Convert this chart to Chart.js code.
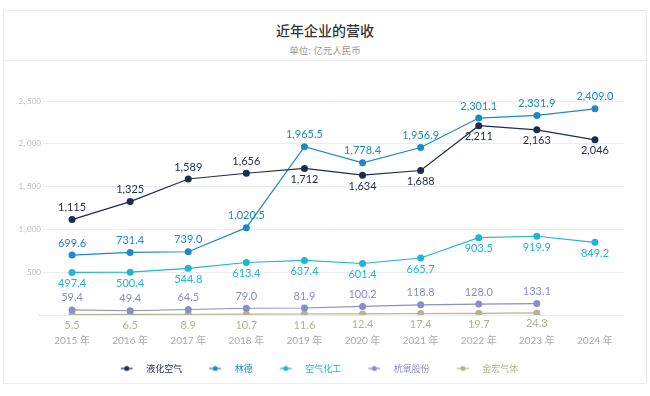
<!DOCTYPE html>
<html>
<head>
<meta charset="utf-8">
<script src="https://cdn.jsdelivr.net/npm/chart.js@4.4.1/dist/chart.umd.min.js"></script>
<style>
  html, body { margin: 0; padding: 0; background: #fff; }
  body { width: 650px; height: 396px; position: relative; overflow: hidden; font-family: Lato, "Noto Sans CJK SC", sans-serif; }
  .card { position: absolute; left: 3px; top: 10px; width: 642px; height: 372px; border: 1px solid #ececec; }
  .head { height: 49px; border-bottom: 1px solid #ececec; text-align: center; }
  .head h1 { margin: 0; padding-top: 10px; font-size: 14px; font-weight: 500; color: #333; line-height: 18px; font-family: "Noto Sans CJK SC", sans-serif; }
  .head p { margin: 5px 0 0; font-size: 9.5px; color: #999; line-height: 12px; font-family: "Noto Sans CJK SC", sans-serif; }
  .box { position: relative; width: 642px; height: 322px; }
</style>
</head>
<body>
<div class="card">
  <div class="head">
    <h1>近年企业的营收</h1>
    <p>单位: 亿元人民币</p>
  </div>
  <div class="box"><canvas id="chart"></canvas></div>
</div>
<script>
const years = ["2015 年", "2016 年", "2017 年", "2018 年", "2019 年", "2020 年", "2021 年", "2022 年", "2023 年", "2024 年"];
const airLiquide = [1115, 1325, 1589, 1656, 1712, 1634, 1688, 2211, 2163, 2046];
const linde = [699.6, 731.4, 739.0, 1020.5, 1965.5, 1778.4, 1956.9, 2301.1, 2331.9, 2409.0];
const airProducts = [497.4, 500.4, 544.8, 613.4, 637.4, 601.4, 665.7, 903.5, 919.9, 849.2];
const hangyang = [59.4, 49.4, 64.5, 79.0, 81.9, 100.2, 118.8, 128.0, 133.1, null];
const jinhong = [5.5, 6.5, 8.9, 10.7, 11.6, 12.4, 17.4, 19.7, 24.3, null];
const yTicks = [0, 500, 1000, 1500, 2000, 2500];

// label placement per series: "up" / "down"
const series = [
  { name: "液化空气", data: airLiquide, color: "#1f2b50", digits: 0, pos: i => i < 4 ? "up" : "down" },
  { name: "林德", data: linde, color: "#1d89c8", digits: 1, pos: () => "up" },
  { name: "空气化工", data: airProducts, color: "#22b4d4", digits: 1, pos: () => "down" },
  { name: "杭氧股份", data: hangyang, color: "#8a8ec6", digits: 1, pos: () => "up" },
  { name: "金宏气体", data: jinhong, color: "#b3b394", digits: 1, pos: () => "down" },
];

function fmt(v, d) {
  return v.toLocaleString("en-US", { minimumFractionDigits: d, maximumFractionDigits: d });
}

// small line + dot marker used as legend point style (left blank = gap to previous item)
function legendMark(color) {
  const c = document.createElement("canvas");
  c.width = 32; c.height = 8;
  const g = c.getContext("2d");
  g.strokeStyle = color; g.lineWidth = 1.2;
  g.beginPath(); g.moveTo(11, 4); g.lineTo(23, 4); g.stroke();
  g.fillStyle = color;
  g.beginPath(); g.arc(17, 4, 2.5, 0, Math.PI * 2); g.fill();
  return c;
}

const valueLabels = {
  id: "valueLabels",
  afterDatasetsDraw(chart) {
    const ctx = chart.ctx;
    ctx.save();
    ctx.font = "11px Lato, 'Noto Sans CJK SC'";
    ctx.textAlign = "center";
    ctx.textBaseline = "middle";
    chart.data.datasets.forEach((ds, di) => {
      const s = series[di];
      chart.getDatasetMeta(di).data.forEach((pt, i) => {
        const v = ds.data[i];
        if (v == null) return;
        ctx.fillStyle = s.color;
        const dy = s.pos(i) === "up" ? -12 : 11;
        ctx.fillText(fmt(v, s.digits), pt.x, pt.y + dy);
      });
    });
    ctx.restore();
  }
};

new Chart(document.getElementById("chart"), {
  type: "line",
  data: {
    labels: years,
    datasets: series.map(s => ({
      label: s.name,
      data: s.data,
      borderColor: s.color,
      backgroundColor: s.color,
      pointBackgroundColor: s.color,
      borderWidth: 1.2,
      pointRadius: 3.5,
      pointBorderWidth: 0,
      pointHoverRadius: 4,
      tension: 0,
      fill: false,
    })),
  },
  options: {
    responsive: true, maintainAspectRatio: false, animation: false,
    layout: { padding: { top: 40, right: 22, left: 0, bottom: 0 } },
    plugins: {
      tooltip: { enabled: false },
      legend: {
        position: "bottom",
        labels: {
          usePointStyle: true,
          pointStyleWidth: 32,
          padding: 16,
          font: { size: 9, family: "'Noto Sans CJK SC', Lato" },
          generateLabels: () => series.map((s, i) => ({
            text: s.name,
            fontColor: s.color,
            pointStyle: legendMark(s.color),
            fillStyle: s.color,
            strokeStyle: s.color,
            lineWidth: 0,
            hidden: false,
            datasetIndex: i,
          })),
        },
      },
    },
    scales: {
      x: {
        offset: true,
        grid: { display: false, drawTicks: false },
        border: { display: false },
        ticks: { color: "#aaa", font: { size: 10, family: "Lato, 'Noto Sans CJK SC'" }, padding: 20, maxRotation: 0 },
        afterFit: (sc) => { sc.height = 33; },
      },
      y: {
        min: 0, max: 2500,
        afterBuildTicks: (sc) => { sc.ticks = yTicks.map(v => ({ value: v })); },
        grid: { color: "#ececec", lineWidth: 1, drawTicks: false },
        border: { display: false },
        ticks: {
          color: "#bbb", padding: 2,
          font: { size: 8, family: "Lato" },
          callback: (v) => v === 0 ? "-" : v.toLocaleString("en-US").replace(",", ", "),
        },
        afterFit: (sc) => { sc.width = 39; },
      },
    },
  },
  plugins: [valueLabels],
});
</script>
</body>
</html>
